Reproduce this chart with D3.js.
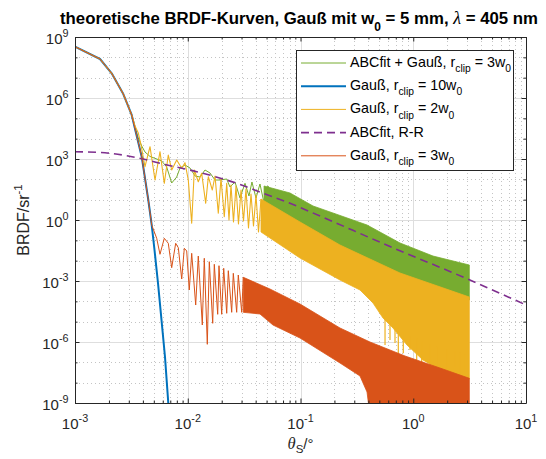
<!DOCTYPE html>
<html><head><meta charset="utf-8">
<script src="https://cdn.jsdelivr.net/npm/d3@7"></script>
<style>body{margin:0;background:#fff;} svg{display:block;}</style>
</head><body>
<script>
// ---------------- data ----------------
// shared main lobe of all Gaussian curves
const lobeTheta = [1e-3, 1.667e-3, 2.115e-3, 2.682e-3, 3.184e-3];
const lobeBRDF  = [3.33e8, 8.28e7, 1.64e7, 1.57e6, 1.46e5];

// Gauß, r_clip = 10 w0 (blue)
const gauss10Theta = [3.905e-3, 4.468e-3, 4.79e-3, 5.05e-3, 5.445e-3, 5.85e-3, 6.284e-3, 6.72e-3, 7.03e-3];
const gauss10BRDF  = [1.30e3, 9.62, 0.568, 0.042, 7.96e-4, 1.21e-5, 1.83e-7, 1e-9, 1.5e-11];

// Gauß, r_clip = 3 w0 (orange): resolved oscillations
const gauss3Theta = [3.905e-3, 4.468e-3, 4.79e-3, 5.303e-3, 5.673e-3, 6.194e-3, 6.72e-3, 7.205e-3, 7.815e-3, 8.245e-3,
  8.84e-3, 9.32e-3, 9.79e-3, 0.01032, 0.01084, 0.01176, 0.01240, 0.01346, 0.01402, 0.01491,
  0.01553, 0.01665, 0.01720, 0.01843, 0.01893, 0.0200, 0.02084, 0.02216, 0.02289, 0.02453,
  0.02535, 0.02716, 0.02807, 0.03010, 0.03111];
const gauss3BRDF = [1.30e3, 9.62, 0.568, 0.126, 0.0206, 0.126, 0.0714, 4.51e-3, 0.0714, 0.0435,
  1.25e-3, 0.0406, 0.0299, 3.61e-4, 0.0230, 6.59e-5, 0.0169, 6.85e-6, 0.0131, 7.71e-7,
  8.89e-3, 8.3e-6, 6.62e-3, 2.30e-5, 5.65e-3, 2.30e-5, 4.21e-3, 2.58e-5, 3.21e-3, 2.88e-5,
  2.39e-3, 2.88e-5, 1.97e-3, 2.88e-5, 1.52e-3];
// orange dense region envelopes
const gauss3UpperTheta = [0.03111, 0.0536, 0.0990, 0.224, 0.4135, 0.845, 1.727, 3.1416];
const gauss3UpperBRDF  = [1.52e-3, 4.04e-4, 7.40e-5, 4.88e-6, 1.0e-6, 2.05e-7, 5.26e-8, 1.64e-8];
const gauss3LowerTheta = [0.03111, 0.0437, 0.0570, 0.0990, 0.224, 0.337, 0.389, 0.422, 3.1416];
const gauss3LowerBRDF  = [2.88e-5, 2.38e-5, 6.85e-6, 1.57e-6, 9.27e-8, 2.13e-8, 3.48e-9, 1e-10, 1e-10];

// Gauß, r_clip = 2 w0 (yellow)
const gauss2Theta = [3.184e-3, 3.405e-3, 3.642e-3, 3.85e-3, 4.176e-3, 4.626e-3, 5.123e-3, 5.673e-3, 6.194e-3, 6.72e-3,
  7.205e-3, 7.98e-3, 8.84e-3, 9.45e-3, 0.01011, 0.01084, 0.01143, 0.01240, 0.01329, 0.01443,
  0.01522, 0.01651, 0.01745, 0.01866, 0.01972, 0.02109, 0.02216, 0.02322, 0.02418,
  0.02545, 0.02678, 0.02818, 0.02967, 0.03122, 0.03285, 0.03457, 0.03639, 0.03829, 0.0403, 0.04241, 0.04463];
const gauss2BRDF = [1.46e5, 4.20e4, 1.90e4, 4.89e3, 418, 4.03e3, 92.7, 2.29e3, 63.8, 1.57e3,
  288, 893, 349, 658, 92.7, 0.689, 288, 76.4, 198, 6.62,
  135, 29.9, 146, 2.13, 112, 1.45, 63.8, 1.0, 52.6,
  0.798, 47.0, 0.635, 29.9, 0.893, 33.5, 0.404, 19.0, 0.507, 16.9, 0.257, 10.8];
const gauss2UpperTheta = [0.04463, 0.0990, 0.224, 0.763, 3.1416];
const gauss2UpperBRDF  = [10.8, 0.798, 0.0589, 2.47e-3, 1.63e-4];
const gauss2LowerTheta = [0.04463, 0.0990, 0.224, 0.337, 0.4395, 0.539, 0.661, 0.880, 1.220, 1.727, 3.1416];
const gauss2LowerBRDF  = [0.257, 0.0135, 1.12e-3, 3.61e-4, 8.28e-5, 1.51e-5, 4.88e-6, 7.11e-7, 1.30e-7, 4.20e-8, 1.5e-8];
const gauss2SpikeTheta  = [0.562, 0.622, 0.689, 0.737, 0.816, 0.936, 1.073, 1.188, 1.408, 1.614, 1.980, 2.346, 2.598, 2.877];
const gauss2SpikeTop    = [2e-5, 1e-5, 5e-6, 4.5e-6, 3e-6, 2e-6, 1.5e-6, 1.1e-6, 8e-7, 6e-7, 4.5e-7, 3.5e-7, 3e-7, 2.5e-7];
const gauss2SpikeBottom = [7.11e-7, 1.25e-6, 8.93e-7, 6.10e-8, 2.78e-7, 4.04e-7, 2.88e-8, 6.10e-8, 3.34e-8, 7.39e-8, 2.04e-9, 6.10e-8, 2.88e-8, 2.04e-9];

// ABCfit + Gauß, r_clip = 3 w0 (green)
const abcGaussTheta = [3.184e-3, 3.405e-3, 3.642e-3, 3.905e-3, 4.176e-3, 4.626e-3, 5.123e-3, 5.875e-3, 6.505e-3, 7.205e-3, 7.98e-3,
  8.54e-3, 9.45e-3, 0.01047, 0.0116, 0.01284, 0.01422, 0.01575, 0.01745, 0.01932, 0.02216,
  0.02369, 0.02624, 0.02906, 0.0322, 0.0349, 0.0371, 0.0403, 0.0437, 0.0475, 0.0515, 0.0559];
const abcGaussBRDF = [1.46e5, 3.87e4, 1.08e4, 4.36e3, 2.21e3, 1.33e3, 1.08e3, 798, 404, 66.1, 130,
  361, 507, 361, 146, 130, 288, 205, 92.7, 92.7, 104,
  42.0, 74.0, 12.1, 63.8, 15.1, 74.0, 12.1, 58.9, 6.85, 47.0, 5.47];
const abcGaussUpperTheta = [0.0475, 0.0807, 0.1291, 0.194, 0.389, 0.763, 1.497, 3.1416];
const abcGaussUpperBRDF  = [47.0, 21.3, 4.89, 2.21, 0.568, 0.074, 0.0169, 6.12e-3];
const abcGaussLowerTheta = [0.0475, 0.0807, 0.1291, 0.224, 0.763, 3.1416];
const abcGaussLowerBRDF  = [6.85, 0.798, 0.183, 0.0267, 1.40e-3, 1.16e-4];

// ABCfit, R-R (purple dashed)
const abcTheta = [1e-3, 1.845e-3, 3.40e-3, 6.28e-3, 0.0120, 0.0272, 0.0468, 0.0807, 0.1214, 0.622, 3.18, 10];
const abcBRDF  = [2.29e3, 2.02e3, 1.21e3, 537, 237, 63.8, 20.6, 6.62, 2.56, 0.0498, 1.12e-3, 6.6e-5];

// axes ticks
const xTickValues = [1e-3, 1e-2, 1e-1, 1, 10];
const xTickExp    = ["-3", "-2", "-1", "0", "1"];
const yTickValues = [1e-9, 1e-6, 1e-3, 1, 1e3, 1e6, 1e9];
const yTickExp    = ["-9", "-6", "-3", "0", "3", "6", "9"];

const colors = {green:"#77AC30", blue:"#0072BD", yellow:"#EDB120", purple:"#7E2F8E", orange:"#D95319"};

// ---------------- layout ----------------
const W = 546, H = 459;
const L = 75, R = 526, T = 37, B = 403;
const FONT = "'Liberation Sans', Arial, Helvetica, sans-serif";
const SERIF = "'Liberation Serif', 'DejaVu Serif', serif";
const INK = "#262626";

const x = d3.scaleLog().domain([1e-3, 10]).range([L, R]);
const y = d3.scaleLog().domain([1e-9, 1e9]).range([B, T]);

const svg = d3.select("body").append("svg").attr("width", W).attr("height", H);
svg.append("rect").attr("width", W).attr("height", H).attr("fill", "#fff");

svg.append("defs").append("clipPath").attr("id", "clip")
  .append("rect").attr("x", L).attr("y", T).attr("width", R - L).attr("height", B - T);

// minor tick values
const xMinor = [];
[1e-3, 1e-2, 1e-1, 1].forEach(d => { for (let k = 2; k <= 9; k++) xMinor.push(k * d); });
const yMinor = [];
for (let e = -9; e <= 9; e++) if (e % 3 !== 0) yMinor.push(Math.pow(10, e));

const crisp = v => Math.round(v) + 0.5;

// grid
const grid = svg.append("g");
grid.selectAll(".gxm").data(xMinor).enter().append("line")
  .attr("x1", d => crisp(x(d))).attr("x2", d => crisp(x(d))).attr("y1", T).attr("y2", B)
  .attr("stroke", "#c4c4c4").attr("stroke-dasharray", "1,3").attr("stroke-width", 1);
grid.selectAll(".gym").data(yMinor).enter().append("line")
  .attr("y1", d => crisp(y(d))).attr("y2", d => crisp(y(d))).attr("x1", L).attr("x2", R)
  .attr("stroke", "#c4c4c4").attr("stroke-dasharray", "1,3").attr("stroke-width", 1);
grid.selectAll(".gx").data(xTickValues).enter().append("line")
  .attr("x1", d => crisp(x(d))).attr("x2", d => crisp(x(d))).attr("y1", T).attr("y2", B)
  .attr("stroke", "#dedede").attr("stroke-width", 1);
grid.selectAll(".gy").data(yTickValues).enter().append("line")
  .attr("y1", d => crisp(y(d))).attr("y2", d => crisp(y(d))).attr("x1", L).attr("x2", R)
  .attr("stroke", "#dedede").attr("stroke-width", 1);

// ---------------- data ----------------
const zip = (a, b) => a.map((v, i) => [v, b[i]]);
const line = d3.line().x(d => x(d[0])).y(d => y(d[1]));
const plot = svg.append("g").attr("clip-path", "url(#clip)");

function band(upX, upY, loX, loY, color) {
  const pts = zip(upX, upY).concat(zip(loX, loY).reverse());
  plot.append("path").attr("d", line(pts) + "Z")
    .attr("fill", color).attr("stroke", color).attr("stroke-width", 0.8).attr("stroke-linejoin", "round");
}
function poly(pts, color, w, dash, curve) {
  const ln = curve ? d3.line().x(d => x(d[0])).y(d => y(d[1])).curve(curve) : line;
  const p = plot.append("path").attr("d", ln(pts)).attr("fill", "none")
    .attr("stroke", color).attr("stroke-width", w).attr("stroke-linejoin", "round");
  if (dash) p.attr("stroke-dasharray", dash);
}

// green
band(abcGaussUpperTheta, abcGaussUpperBRDF, abcGaussLowerTheta, abcGaussLowerBRDF, colors.green);
poly(zip(lobeTheta, lobeBRDF).concat(zip(abcGaussTheta, abcGaussBRDF)), colors.green, 1);
// blue
poly(zip(lobeTheta, lobeBRDF).concat(zip(gauss10Theta, gauss10BRDF)), colors.blue, 2);
// yellow
band(gauss2UpperTheta, gauss2UpperBRDF, gauss2LowerTheta, gauss2LowerBRDF, colors.yellow);
poly(zip(lobeTheta, lobeBRDF).concat(zip(gauss2Theta, gauss2BRDF)), colors.yellow, 1.1);
plot.selectAll(".spk").data(gauss2SpikeTheta).enter().append("line")
  .attr("x1", d => x(d)).attr("x2", d => x(d))
  .attr("y1", (d, i) => y(gauss2SpikeTop[i])).attr("y2", (d, i) => y(gauss2SpikeBottom[i]))
  .attr("stroke", colors.yellow).attr("stroke-width", 1.2);
// purple dashed
poly(zip(abcTheta, abcBRDF), colors.purple, 1.6, "8,5", d3.curveMonotoneX);
// orange
band(gauss3UpperTheta, gauss3UpperBRDF, gauss3LowerTheta, gauss3LowerBRDF, colors.orange);
poly(zip(lobeTheta, lobeBRDF).concat(zip(gauss3Theta, gauss3BRDF)), colors.orange, 1);

// ---------------- axes ----------------
function styleAxis(g, keepDomain) {
  g.selectAll("line").attr("stroke", INK);
  g.selectAll("path").attr("stroke", INK);
  g.selectAll("text").remove();
  if (!keepDomain) g.select(".domain").remove();
}
const axes = svg.append("g");
[[d3.axisBottom, B, "h"], [d3.axisTop, T, "h"], [d3.axisLeft, L, "v"], [d3.axisRight, R, "v"]].forEach(([fn, pos, o]) => {
  const sc = o === "h" ? x : y;
  const major = o === "h" ? xTickValues : yTickValues;
  const minor = o === "h" ? xMinor : yMinor;
  const tr = o === "h" ? `translate(0,${pos})` : `translate(${pos},0)`;
  axes.append("g").attr("transform", tr)
    .call(fn(sc).tickValues(minor).tickSize(-2.5).tickSizeOuter(0).tickFormat(""))
    .call(g => styleAxis(g, false));
  axes.append("g").attr("transform", tr)
    .call(fn(sc).tickValues(major).tickSize(-4.5).tickSizeOuter(0).tickFormat(""))
    .call(g => styleAxis(g, true));
});

// rich text helper
function rich(t, parts, size) {
  let cur = 0;
  parts.forEach(p => {
    const m = p.m || "n";
    const target = m === "sup" ? -(p.sh || size * 0.45) : m === "sub" ? (p.sh || size * 0.36) : 0;
    const ts = t.append("tspan").text(p.t).attr("dy", target - cur);
    cur = target;
    if (m !== "n") ts.attr("font-size", p.fs || size * 0.72);
    if (p.f) ts.attr("font-family", p.f);
    if (p.s) ts.attr("font-style", p.s);
    if (p.w) ts.attr("font-weight", p.w);
    if (p.fs && m === "n") ts.attr("font-size", p.fs);
  });
  return t;
}

const TS = 15;
xTickValues.forEach((v, i) => {
  const t = svg.append("text").attr("x", x(v)).attr("y", 428.5).attr("text-anchor", "middle")
    .attr("font-family", FONT).attr("font-size", TS).attr("fill", INK);
  rich(t, [{t: "10"}, {t: xTickExp[i], m: "sup"}], TS);
});
yTickValues.forEach((v, i) => {
  const t = svg.append("text").attr("x", 68.5).attr("y", y(v) + 6.5).attr("text-anchor", "end")
    .attr("font-family", FONT).attr("font-size", TS).attr("fill", INK);
  rich(t, [{t: "10"}, {t: yTickExp[i], m: "sup"}], TS);
});

// axis labels
rich(svg.append("text").attr("transform", `translate(29,${(T + B) / 2}) rotate(-90)`)
  .attr("text-anchor", "middle").attr("font-family", FONT).attr("font-size", 16).attr("fill", INK),
  [{t: "BRDF/sr"}, {t: "-1", m: "sup"}], 16);
rich(svg.append("text").attr("x", (L + R) / 2).attr("y", 449).attr("text-anchor", "middle")
  .attr("font-family", FONT).attr("font-size", TS).attr("fill", INK),
  [{t: "θ", f: SERIF, s: "italic", fs: 16.5}, {t: "S", m: "sub", sh: 4, fs: 11.5}, {t: "/°"}], TS);

// title
rich(svg.append("text").attr("x", (L + R) / 2 - 1.5).attr("y", 23.5).attr("text-anchor", "middle")
  .attr("font-family", FONT).attr("font-size", 16.8).attr("font-weight", "bold").attr("fill", "#000"),
  [{t: "theoretische BRDF-Kurven, Gauß mit w"}, {t: "0", m: "sub", sh: 7, fs: 12},
   {t: " = 5 mm, "}, {t: "λ", f: SERIF, s: "italic", w: "normal", fs: 18}, {t: " = 405 nm"}], 16.8);

// ---------------- legend ----------------
const legendLabels = [
  [{t: "ABCfit + Gauß, r"}, {t: "clip", m: "sub"}, {t: " = 3w"}, {t: "0", m: "sub"}],
  [{t: "Gauß, r"}, {t: "clip", m: "sub"}, {t: " = 10w"}, {t: "0", m: "sub"}],
  [{t: "Gauß, r"}, {t: "clip", m: "sub"}, {t: " = 2w"}, {t: "0", m: "sub"}],
  [{t: "ABCfit, R-R"}],
  [{t: "Gauß, r"}, {t: "clip", m: "sub"}, {t: " = 3w"}, {t: "0", m: "sub"}]
];
const legendColors = [colors.green, colors.blue, colors.yellow, colors.purple, colors.orange];
const legendWidths = [1, 2, 1, 1.6, 1];
const legendDash = [null, null, null, "8,5", null];
const LS = 14.3;
const lg = svg.append("g");
lg.append("rect").attr("x", 296.5).attr("y", 50.5).attr("width", 217).attr("height", 120)
  .attr("fill", "#fff").attr("stroke", INK).attr("stroke-width", 1);
legendLabels.forEach((parts, i) => {
  const ly = 63 + i * 23.2;
  const l = lg.append("line").attr("x1", 301).attr("x2", 346).attr("y1", ly).attr("y2", ly)
    .attr("stroke", legendColors[i]).attr("stroke-width", legendWidths[i]);
  if (legendDash[i]) l.attr("stroke-dasharray", legendDash[i]);
  rich(lg.append("text").attr("x", 350).attr("y", ly + 4).attr("font-family", FONT)
    .attr("font-size", LS).attr("fill", "#000"), parts, LS);
});
</script>
</body></html>
